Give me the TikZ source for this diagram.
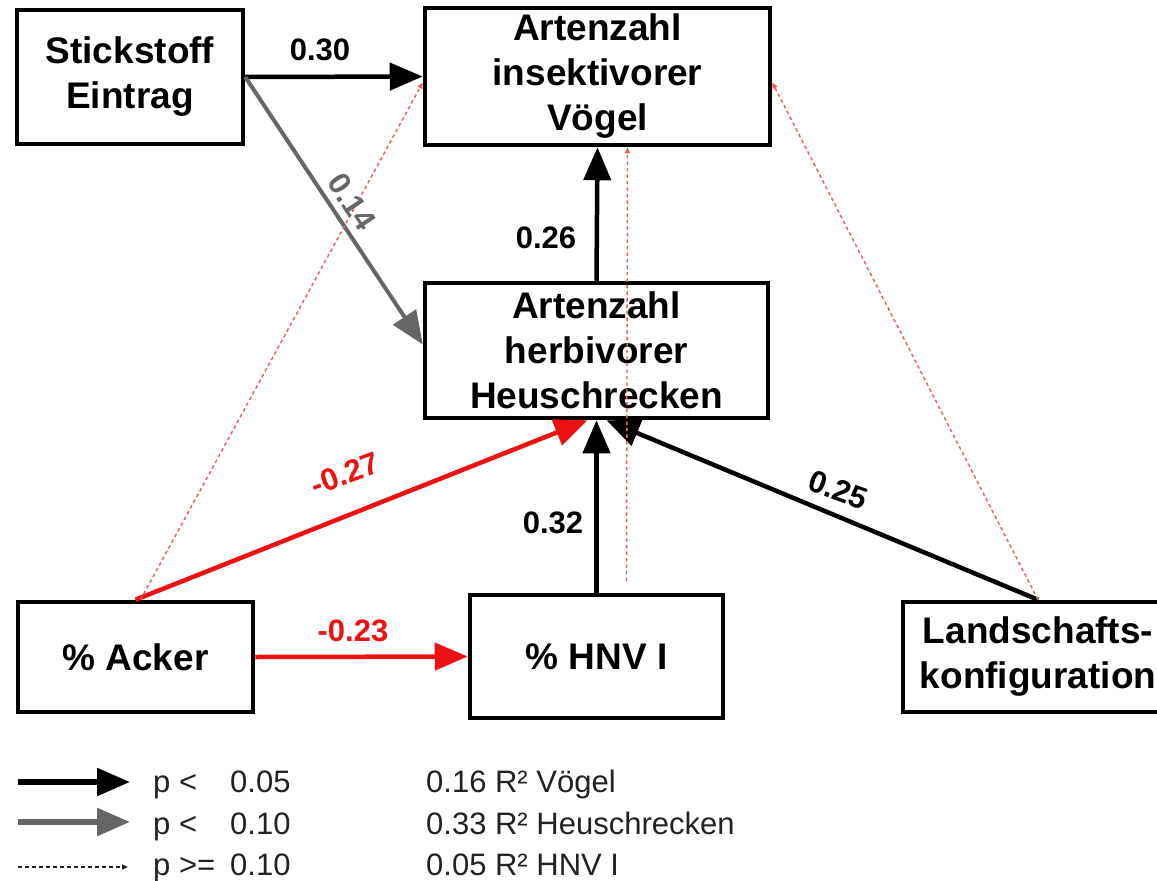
\documentclass[tikz,border=0pt]{standalone}
\usepackage{fontspec}
\setmainfont{Liberation Sans}
\usetikzlibrary{arrows.meta}
\definecolor{dashred}{HTML}{EE5A5A}
\definecolor{arrred}{HTML}{EE1111}
\definecolor{arrgrey}{HTML}{666666}
\definecolor{legtext}{HTML}{222222}
\begin{document}
\begin{tikzpicture}[x=1pt,y=-1pt,
  box/.style={draw=black, line width=4.5pt, fill=white, align=center, inner sep=0pt,
    font=\fontsize{37}{45}\selectfont\bfseries},
  bighead/.style={-{Triangle[length=33pt,width=27pt]}},
  blk/.style={draw=black, line width=4.5pt, bighead},
  redarr/.style={draw=arrred, line width=4.5pt, -{Triangle[length=33pt,width=27pt,fill=arrred]}},
  greyarr/.style={draw=arrgrey, line width=4pt, -{Triangle[length=33pt,width=27pt,fill=arrgrey]}},
  dsh/.style={draw=dashred, line width=1.4pt, dash pattern=on 3.5pt off 3pt, -{Triangle[length=6pt,width=5pt]}},
  lbl/.style={font=\fontsize{31}{31}\selectfont\bfseries, inner sep=0pt},
  legt/.style={font=\fontsize{31}{31}\selectfont, text=legtext, inner sep=0pt, anchor=base west}
]
\clip (0,0) rectangle (1157,881);
\fill[white] (0,0) rectangle (1157,881);

% boxes
\node[box, minimum width=226pt, minimum height=134pt] (stick) at (130,77) {Stickstoff\\Eintrag};
\node[box, minimum width=345pt, minimum height=137pt] (voegel) at (597.5,76.5) {Artenzahl\\insektivorer\\Vögel};
\node[box, minimum width=343pt, minimum height=135pt] (herb) at (596.5,350.5) {Artenzahl\\herbivorer\\Heuschrecken};
\node[box, minimum width=235pt, minimum height=110pt] (acker) at (135.5,657) {\% Acker};
\node[box, minimum width=253pt, minimum height=123pt] (hnv) at (596.5,656.5) {\% HNV I};
\node[box, minimum width=270pt, minimum height=110pt] (land) at (1038,657) {Landschafts-\\konfiguration};

% significant paths
\draw[blk] (stick.east) -- (voegel.west);
\draw[greyarr] (stick.east) -- ([yshift=6pt]herb.west);
\draw[blk] (herb.north) -- (voegel.south);
\draw[redarr] (acker.north) -- ([xshift=-9pt]herb.south);
\draw[blk] (hnv.north) -- (herb.south);
\draw[blk] (land.north) -- ([xshift=10pt]herb.south);
\draw[redarr] (acker.east) -- (hnv.west);

% non-significant paths
\draw[dsh] ([xshift=5pt]acker.north) -- ([yshift=-6pt]voegel.west);
\draw[dsh] ([xshift=30pt,yshift=12pt]hnv.north) -- ([xshift=30pt]voegel.south);
\draw[dsh] (land.north) -- ([yshift=-6pt]voegel.east);

% path labels
\node[lbl] (l030) at (320,50) {0.30};
\node[lbl, text=arrgrey, rotate=-56] (l014) at (352,202) {0.14};
\node[lbl] (l026) at (546,238) {0.26};
\node[lbl, text=arrred, rotate=20] (l027) at (345,474) {-0.27};
\node[lbl] (l032) at (553,523) {0.32};
\node[lbl, rotate=-20] (l025) at (838,490) {0.25};
\node[lbl, text=arrred] (l023) at (353,631) {-0.23};

% legend
\coordinate (g1a) at (18,782); \coordinate (g1b) at (130,782);
\coordinate (g2a) at (18,822); \coordinate (g2b) at (130,822);
\coordinate (g3a) at (18,867); \coordinate (g3b) at (128,867);
\draw[blk, line width=5.5pt] (g1a) -- (g1b);
\draw[greyarr, line width=5.5pt] (g2a) -- (g2b);
\draw[draw=legtext, line width=1.4pt, dash pattern=on 4pt off 3pt, -{Triangle[length=6pt,width=5pt]}] (g3a) -- (g3b);
\node[legt] (t1a) at (153,792) {p <};
\node[legt] (t1b) at (230,792) {0.05};
\node[legt] (t2a) at (153,834) {p <};
\node[legt] (t2b) at (230,834) {0.10};
\node[legt] (t3a) at (153,875) {p >=};
\node[legt] (t3b) at (230,875) {0.10};
\node[legt] (r1) at (426,792) {0.16 R² Vögel};
\node[legt] (r2) at (426,834) {0.33 R² Heuschrecken};
\node[legt] (r3) at (426,875) {0.05 R² HNV I};
\end{tikzpicture}
\end{document}
